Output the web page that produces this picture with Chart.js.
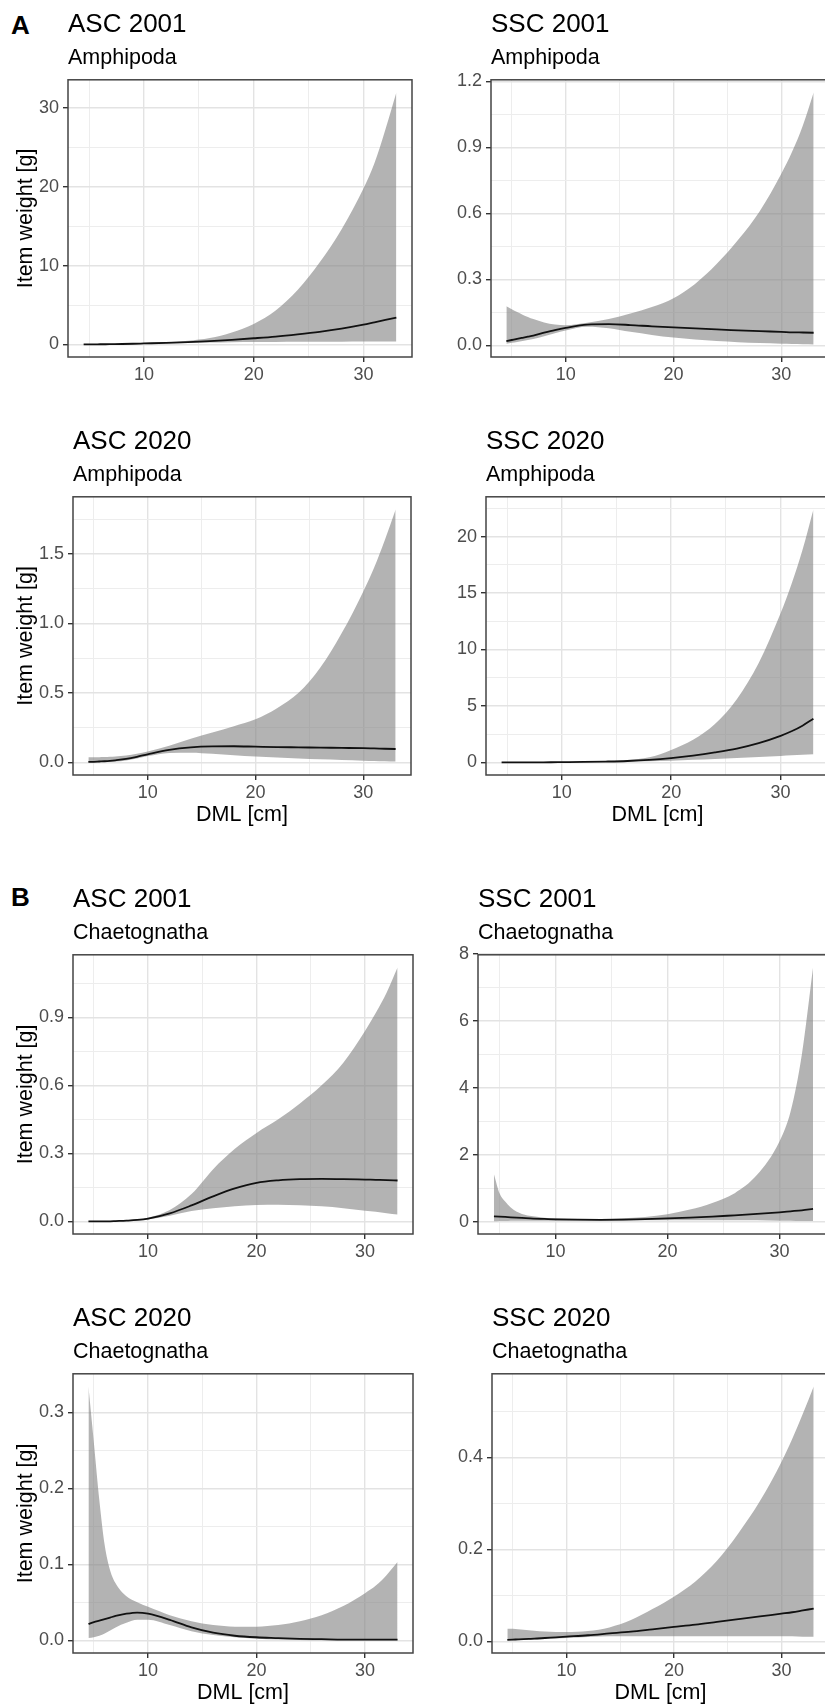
<!DOCTYPE html>
<html>
<head>
<meta charset="utf-8">
<title>Item weight vs DML</title>
<script src="https://cdn.jsdelivr.net/npm/chart.js@4.4.1/dist/chart.umd.min.js"></script>
<style>
  html, body { margin: 0; padding: 0; background: #fff; overflow: hidden; }
  body { width: 825px; height: 1706px; position: relative; }
  .panel { position: absolute; }
  .tag { position: absolute; left: 11px; font: bold 26px/26px "Liberation Sans", Arial, sans-serif; color: #000; }
</style>
</head>
<body>
<div class="tag" style="top:12px">A</div>
<div class="tag" style="top:884px">B</div>
<div class="panel" id="p1"><canvas></canvas></div>
<div class="panel" id="p2"><canvas></canvas></div>
<div class="panel" id="p3"><canvas></canvas></div>
<div class="panel" id="p4"><canvas></canvas></div>
<div class="panel" id="p5"><canvas></canvas></div>
<div class="panel" id="p6"><canvas></canvas></div>
<div class="panel" id="p7"><canvas></canvas></div>
<div class="panel" id="p8"><canvas></canvas></div>
<script>
/* DML values [cm] shared by every panel */
const dml = [4.5, 5, 5.5, 6, 6.5, 7, 8, 9, 10, 12, 14, 16, 18, 20, 22, 24, 26, 28, 30, 31, 32, 33];
const dmlMajor = [10, 20, 30];
const dmlMinor = [5, 15, 25];

/* A - Amphipoda */
const ascAmph2001Fit   = [0.01, 0.01, 0.01, 0.02, 0.02, 0.03, 0.05, 0.08, 0.12, 0.2, 0.3, 0.42, 0.58, 0.78, 1.0, 1.28, 1.6, 2.0, 2.5, 2.8, 3.1, 3.4];
const ascAmph2001Lower = [0, 0, 0, 0, 0, 0, 0.01, 0.03, 0.06, 0.12, 0.18, 0.23, 0.27, 0.3, 0.32, 0.33, 0.34, 0.35, 0.36, 0.37, 0.38, 0.38];
const ascAmph2001Upper = [0.02, 0.02, 0.03, 0.03, 0.04, 0.05, 0.07, 0.1, 0.15, 0.26, 0.46, 0.8, 1.5, 2.6, 4.3, 6.9, 10.4, 14.6, 19.8, 23.0, 27.3, 32.0];

const sscAmph2001Fit   = [0.02, 0.025, 0.03, 0.035, 0.04, 0.045, 0.058, 0.07, 0.08, 0.095, 0.097, 0.093, 0.087, 0.082, 0.078, 0.073, 0.069, 0.065, 0.062, 0.06, 0.059, 0.058];
const sscAmph2001Lower = [0.008, 0.012, 0.016, 0.02, 0.025, 0.03, 0.042, 0.056, 0.068, 0.085, 0.078, 0.062, 0.048, 0.036, 0.027, 0.02, 0.015, 0.011, 0.008, 0.007, 0.006, 0.005];
const sscAmph2001Upper = [0.178, 0.165, 0.152, 0.14, 0.13, 0.12, 0.105, 0.095, 0.092, 0.103, 0.12, 0.145, 0.175, 0.215, 0.28, 0.37, 0.48, 0.61, 0.78, 0.88, 1.0, 1.15];

const ascAmph2020Fit   = [0.003, 0.004, 0.006, 0.008, 0.011, 0.015, 0.025, 0.04, 0.058, 0.09, 0.108, 0.115, 0.116, 0.113, 0.11, 0.108, 0.106, 0.104, 0.102, 0.1, 0.098, 0.096];
const ascAmph2020Lower = [0, 0, 0.001, 0.002, 0.004, 0.006, 0.014, 0.028, 0.045, 0.068, 0.07, 0.062, 0.052, 0.043, 0.035, 0.028, 0.022, 0.017, 0.012, 0.01, 0.008, 0.006];
const ascAmph2020Upper = [0.036, 0.036, 0.037, 0.038, 0.04, 0.042, 0.05, 0.062, 0.078, 0.12, 0.17, 0.215, 0.26, 0.31, 0.39, 0.5, 0.68, 0.93, 1.23, 1.4, 1.6, 1.82];

const sscAmph2020Fit   = [0, 0, 0, 0.001, 0.002, 0.003, 0.006, 0.01, 0.02, 0.04, 0.07, 0.12, 0.22, 0.38, 0.6, 0.88, 1.22, 1.7, 2.35, 2.75, 3.25, 3.86];
const sscAmph2020Lower = [0, 0, 0, 0, 0, 0, 0, 0.003, 0.008, 0.018, 0.03, 0.06, 0.1, 0.15, 0.22, 0.3, 0.39, 0.47, 0.57, 0.62, 0.67, 0.72];
const sscAmph2020Upper = [0.01, 0.01, 0.01, 0.01, 0.01, 0.01, 0.015, 0.02, 0.03, 0.05, 0.1, 0.2, 0.45, 1.1, 2.0, 3.4, 5.6, 8.8, 13.2, 15.8, 18.8, 22.4];

/* B - Chaetognatha */
const ascChae2001Fit   = [0, 0, 0, 0, 0, 0.001, 0.003, 0.006, 0.012, 0.035, 0.07, 0.11, 0.145, 0.17, 0.181, 0.186, 0.187, 0.186, 0.184, 0.183, 0.182, 0.18];
const ascChae2001Lower = [0, 0, 0, 0, 0, 0, 0.002, 0.004, 0.008, 0.025, 0.045, 0.058, 0.067, 0.072, 0.073, 0.071, 0.066, 0.058, 0.047, 0.042, 0.036, 0.03];
const ascChae2001Upper = [0.001, 0.001, 0.001, 0.001, 0.001, 0.002, 0.005, 0.009, 0.016, 0.05, 0.12, 0.23, 0.32, 0.39, 0.45, 0.52, 0.6, 0.7, 0.84, 0.92, 1.01, 1.12];

const sscChae2001Fit   = [0.16, 0.15, 0.14, 0.13, 0.12, 0.11, 0.09, 0.08, 0.07, 0.06, 0.055, 0.06, 0.075, 0.095, 0.12, 0.15, 0.19, 0.23, 0.28, 0.31, 0.34, 0.38];
const sscChae2001Lower = [0.01, 0.02, 0.02, 0.03, 0.03, 0.03, 0.03, 0.03, 0.03, 0.03, 0.03, 0.03, 0.04, 0.04, 0.04, 0.04, 0.04, 0.04, 0.03, 0.03, 0.02, 0.02];
const sscChae2001Upper = [1.42, 0.85, 0.6, 0.42, 0.3, 0.23, 0.16, 0.12, 0.1, 0.08, 0.08, 0.1, 0.14, 0.22, 0.36, 0.56, 0.85, 1.4, 2.4, 3.3, 5.0, 7.6];

const ascChae2020Fit   = [0.0215, 0.024, 0.026, 0.028, 0.03, 0.032, 0.035, 0.0365, 0.035, 0.027, 0.017, 0.01, 0.006, 0.004, 0.003, 0.002, 0.0015, 0.001, 0.001, 0.001, 0.001, 0.001];
const ascChae2020Lower = [0.003, 0.004, 0.006, 0.009, 0.013, 0.017, 0.023, 0.027, 0.027, 0.02, 0.012, 0.007, 0.004, 0.002, 0.001, 0.0005, 0, 0, 0, 0, 0, 0];
const ascChae2020Upper = [0.334, 0.26, 0.185, 0.125, 0.092, 0.075, 0.058, 0.05, 0.044, 0.033, 0.025, 0.02, 0.018, 0.018, 0.02, 0.025, 0.033, 0.045, 0.062, 0.072, 0.086, 0.103];

const sscChae2020Fit   = [0.003, 0.0035, 0.004, 0.0045, 0.005, 0.0055, 0.007, 0.0085, 0.01, 0.013, 0.017, 0.021, 0.026, 0.031, 0.036, 0.042, 0.048, 0.054, 0.06, 0.063, 0.067, 0.071];
const sscChae2020Lower = [0.002, 0.002, 0.002, 0.003, 0.003, 0.004, 0.005, 0.006, 0.007, 0.009, 0.011, 0.011, 0.011, 0.011, 0.011, 0.011, 0.011, 0.011, 0.011, 0.011, 0.01, 0.01];
const sscChae2020Upper = [0.027, 0.027, 0.026, 0.025, 0.024, 0.023, 0.021, 0.02, 0.02, 0.022, 0.03, 0.046, 0.07, 0.097, 0.13, 0.175, 0.235, 0.305, 0.39, 0.44, 0.495, 0.554];

/* y tick values per panel */
const ticks30 = [0, 10, 20, 30],        minor30 = [5, 15, 25];
const ticks12 = [0, 0.3, 0.6, 0.9, 1.2], minor12 = [0.15, 0.45, 0.75, 1.05];
const ticks15 = [0, 0.5, 1.0, 1.5],      minor15 = [0.25, 0.75, 1.25, 1.75];
const ticks20 = [0, 5, 10, 15, 20],      minor20 = [2.5, 7.5, 12.5, 17.5, 22.5];
const ticks09 = [0, 0.3, 0.6, 0.9],      minor09 = [0.15, 0.45, 0.75, 1.05];
const ticks8  = [0, 2, 4, 6, 8],         minor8  = [1, 3, 5, 7];
const ticks03 = [0, 0.1, 0.2, 0.3],      minor03 = [0.05, 0.15, 0.25];
const ticks04 = [0, 0.2, 0.4],           minor04 = [0.1, 0.3, 0.5];

const FONT = '"Liberation Sans", Arial, Helvetica, sans-serif';
Chart.defaults.font.family = FONT;

const panels = [
  { id: "p1", title: "ASC 2001", sub: "Amphipoda", box: [68, 79, 412, 357], col: 0, yTitle: true, xTitle: false,
    fit: ascAmph2001Fit, lo: ascAmph2001Lower, hi: ascAmph2001Upper, major: ticks30, minor: minor30, dec: 0 },
  { id: "p2", title: "SSC 2001", sub: "Amphipoda", box: [491, 79, 829, 357], col: 1, yTitle: false, xTitle: false,
    fit: sscAmph2001Fit, lo: sscAmph2001Lower, hi: sscAmph2001Upper, major: ticks12, minor: minor12, dec: 1 },
  { id: "p3", title: "ASC 2020", sub: "Amphipoda", box: [73, 496, 411, 775], col: 0, yTitle: true, xTitle: true,
    fit: ascAmph2020Fit, lo: ascAmph2020Lower, hi: ascAmph2020Upper, major: ticks15, minor: minor15, dec: 1 },
  { id: "p4", title: "SSC 2020", sub: "Amphipoda", box: [486, 496, 829, 775], col: 1, yTitle: false, xTitle: true,
    fit: sscAmph2020Fit, lo: sscAmph2020Lower, hi: sscAmph2020Upper, major: ticks20, minor: minor20, dec: 0 },
  { id: "p5", title: "ASC 2001", sub: "Chaetognatha", box: [73, 954, 413, 1234], col: 0, yTitle: true, xTitle: false,
    fit: ascChae2001Fit, lo: ascChae2001Lower, hi: ascChae2001Upper, major: ticks09, minor: minor09, dec: 1 },
  { id: "p6", title: "SSC 2001", sub: "Chaetognatha", box: [478, 954, 829, 1234], col: 1, yTitle: false, xTitle: false,
    fit: sscChae2001Fit, lo: sscChae2001Lower, hi: sscChae2001Upper, major: ticks8, minor: minor8, dec: 0 },
  { id: "p7", title: "ASC 2020", sub: "Chaetognatha", box: [73, 1373, 413, 1653], col: 0, yTitle: true, xTitle: true,
    fit: ascChae2020Fit, lo: ascChae2020Lower, hi: ascChae2020Upper, major: ticks03, minor: minor03, dec: 1 },
  { id: "p8", title: "SSC 2020", sub: "Chaetognatha", box: [492, 1373, 829, 1653], col: 1, yTitle: false, xTitle: true,
    fit: sscChae2020Fit, lo: sscChae2020Lower, hi: sscChae2020Upper, major: ticks04, minor: minor04, dec: 1 },
];

/* ggplot style: range expanded by 5% on each side */
function expand(lo, hi) {
  const pad = (hi - lo) * 0.05;
  return [lo - pad, hi + pad];
}

/* Panel border drawn on top of everything */
const panelBorder = {
  id: "panelBorder",
  afterDraw(chart) {
    const { ctx, chartArea: a } = chart;
    ctx.save();
    ctx.strokeStyle = "#444";
    ctx.lineWidth = 1.5;
    ctx.strokeRect(a.left, a.top, a.right - a.left, a.bottom - a.top);
    ctx.restore();
  },
};

function gridStyle(major) {
  return {
    color: (c) => (c.tick && major.includes(c.tick.value) ? "#e3e3e3" : "#ededed"),
    lineWidth: (c) => (c.tick && major.includes(c.tick.value) ? 1.4 : 1),
    tickColor: (c) => (c.tick && major.includes(c.tick.value) ? "#333" : "rgba(0,0,0,0)"),
    tickWidth: 1.4,
    tickLength: 5,
  };
}

function drawPanel(p) {
  const holder = document.getElementById(p.id);
  const canvas = holder.querySelector("canvas");
  const left = p.col === 0 ? 0 : 415;
  const yAxisW = p.box[0] - left;
  const xAxisH = p.xTitle ? 55 : 32;
  const boxW = p.box[2] - p.box[0];
  const boxH = p.box[3] - p.box[1];

  holder.style.left = left + "px";
  holder.style.top = p.box[1] - 74 + "px";
  canvas.width = yAxisW + boxW + 4;
  canvas.height = 74 + boxH + xAxisH;

  const [xMin, xMax] = expand(Math.min(...dml), Math.max(...dml));
  const [yMin, yMax] = expand(Math.min(...p.lo), Math.max(...p.hi));
  const pts = (arr) => dml.map((x, i) => ({ x: x, y: arr[i] }));

  new Chart(canvas, {
    type: "line",
    data: {
      datasets: [
        { data: pts(p.fit), borderColor: "#111", borderWidth: 1.8, pointRadius: 0, fill: false, cubicInterpolationMode: "monotone" },
        { data: pts(p.lo), borderWidth: 0, borderColor: "rgba(0,0,0,0)", pointRadius: 0, fill: false, cubicInterpolationMode: "monotone" },
        { data: pts(p.hi), borderWidth: 0, borderColor: "rgba(0,0,0,0)", pointRadius: 0, fill: "-1",
          backgroundColor: "rgba(128,128,128,0.6)", cubicInterpolationMode: "monotone" },
      ],
    },
    options: {
      responsive: false,
      animation: false,
      events: [],
      layout: { padding: { left: 0, right: 4, top: 0, bottom: 0 } },
      plugins: {
        legend: { display: false },
        tooltip: { enabled: false },
        title: { display: true, text: p.title, align: "start", fullSize: false, color: "#000",
          font: { size: 26, weight: "normal" }, padding: { top: 3.9, bottom: 5.3 } },
        subtitle: { display: true, text: p.sub, align: "start", fullSize: false, color: "#000",
          font: { size: 21.5, weight: "normal" }, padding: { top: 0, bottom: 8.6 } },
      },
      scales: {
        x: {
          type: "linear",
          min: xMin,
          max: xMax,
          afterBuildTicks: (s) => { s.ticks = dmlMinor.concat(dmlMajor).sort((a, b) => a - b).map((v) => ({ value: v })); },
          afterFit: (s) => { s.height = xAxisH; },
          grid: gridStyle(dmlMajor),
          border: { display: false },
          ticks: { autoSkip: false, maxRotation: 0, padding: 2.5, color: "#4d4d4d", font: { size: 18 },
            callback: (v) => (dmlMajor.includes(v) ? String(v) : "") },
          title: { display: p.xTitle, text: "DML [cm]", color: "#000", font: { size: 21.5 }, padding: { top: 0, bottom: 2.1 } },
        },
        y: {
          type: "linear",
          min: yMin,
          max: yMax,
          afterBuildTicks: (s) => { s.ticks = p.minor.concat(p.major).sort((a, b) => a - b).map((v) => ({ value: v })); },
          afterFit: (s) => { s.width = yAxisW; },
          grid: gridStyle(p.major),
          border: { display: false },
          ticks: { autoSkip: false, padding: 4, color: "#4d4d4d", font: { size: 18 },
            callback: (v) => (p.major.includes(v) ? v.toFixed(p.dec) : "") },
          title: { display: p.yTitle, text: "Item weight [g]", color: "#000", font: { size: 21.5 }, padding: { top: 13.1, bottom: 0 } },
        },
      },
    },
    plugins: [panelBorder],
  });
}

panels.forEach(drawPanel);
</script>
</body>
</html>
